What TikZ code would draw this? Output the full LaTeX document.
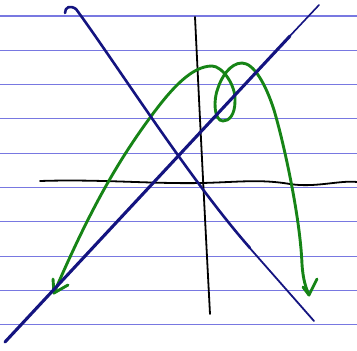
\documentclass[tikz,border=0pt]{standalone}
\usepackage{amsmath,amssymb}
\usepackage{tikz}
\usetikzlibrary{arrows.meta}
\definecolor{ruleblue}{RGB}{120,120,225}
\definecolor{inkblue}{RGB}{20,20,128}
\definecolor{inkgreen}{RGB}{22,132,22}

\begin{document}
\begin{tikzpicture}[x=1pt,y=-1pt,line cap=round,line join=round,
    ruled/.style={ruleblue,line width=1.1pt},
    axis/.style={black,line width=1.8pt},
    pen/.style={inkblue,line width=2.6pt},
    graph/.style={inkgreen,line width=2.9pt}]
  \useasboundingbox (0,0) rectangle (357,351);
  % notebook paper
  \foreach \k in {0,...,9}
    \draw[ruled] (0,16+34.3*\k) -- (357,16+34.3*\k);
  % hand drawn axes
  \draw[axis] (40,181) .. controls (100,179) and (150,184) ..
    (202,183) .. controls (240,182) and (260,179) ..
    (290,184) .. controls (315,188) and (340,180) .. (357,182);
  \draw[axis] (195,17) .. controls (199,100) and (205,220) .. (210,314);
  % green curve with loop, arrows at both ends
  \draw[graph]
    (54,293) .. controls (89,212) and (117,162) ..
    (152,115) .. controls (172,88) and (192,66) ..
    (212,66) .. controls (222,66) and (236,85) ..
    (235,101) .. controls (235,115) and (229,121) ..
    (223,121) .. controls (214,121) and (213,100) ..
    (218,88) .. controls (221,78) and (230,63) ..
    (242,63) .. controls (254,63) and (266,85) ..
    (274,110) .. controls (283,140) and (300,215) ..
    (302,264) .. controls (303,280) and (306,288) .. (309,295);
  \draw[graph] (53,279) -- (54,293) -- (68,285);
  \draw[graph] (303,287) -- (309,295) -- (317,279);
  % the two lines
  \draw[pen] (65,13) .. controls (65,7) and (70,5) ..
    (76,9) .. controls (115,62) and (190,180) .. (250,248);
  \draw[pen,line width=1.8pt] (248,246) -- (314,321);
  \draw[pen,line width=3.1pt] (5,342) -- (290,36);
  \draw[pen,line width=1.6pt] (288,38) -- (319,5);
\end{tikzpicture}
\end{document}
